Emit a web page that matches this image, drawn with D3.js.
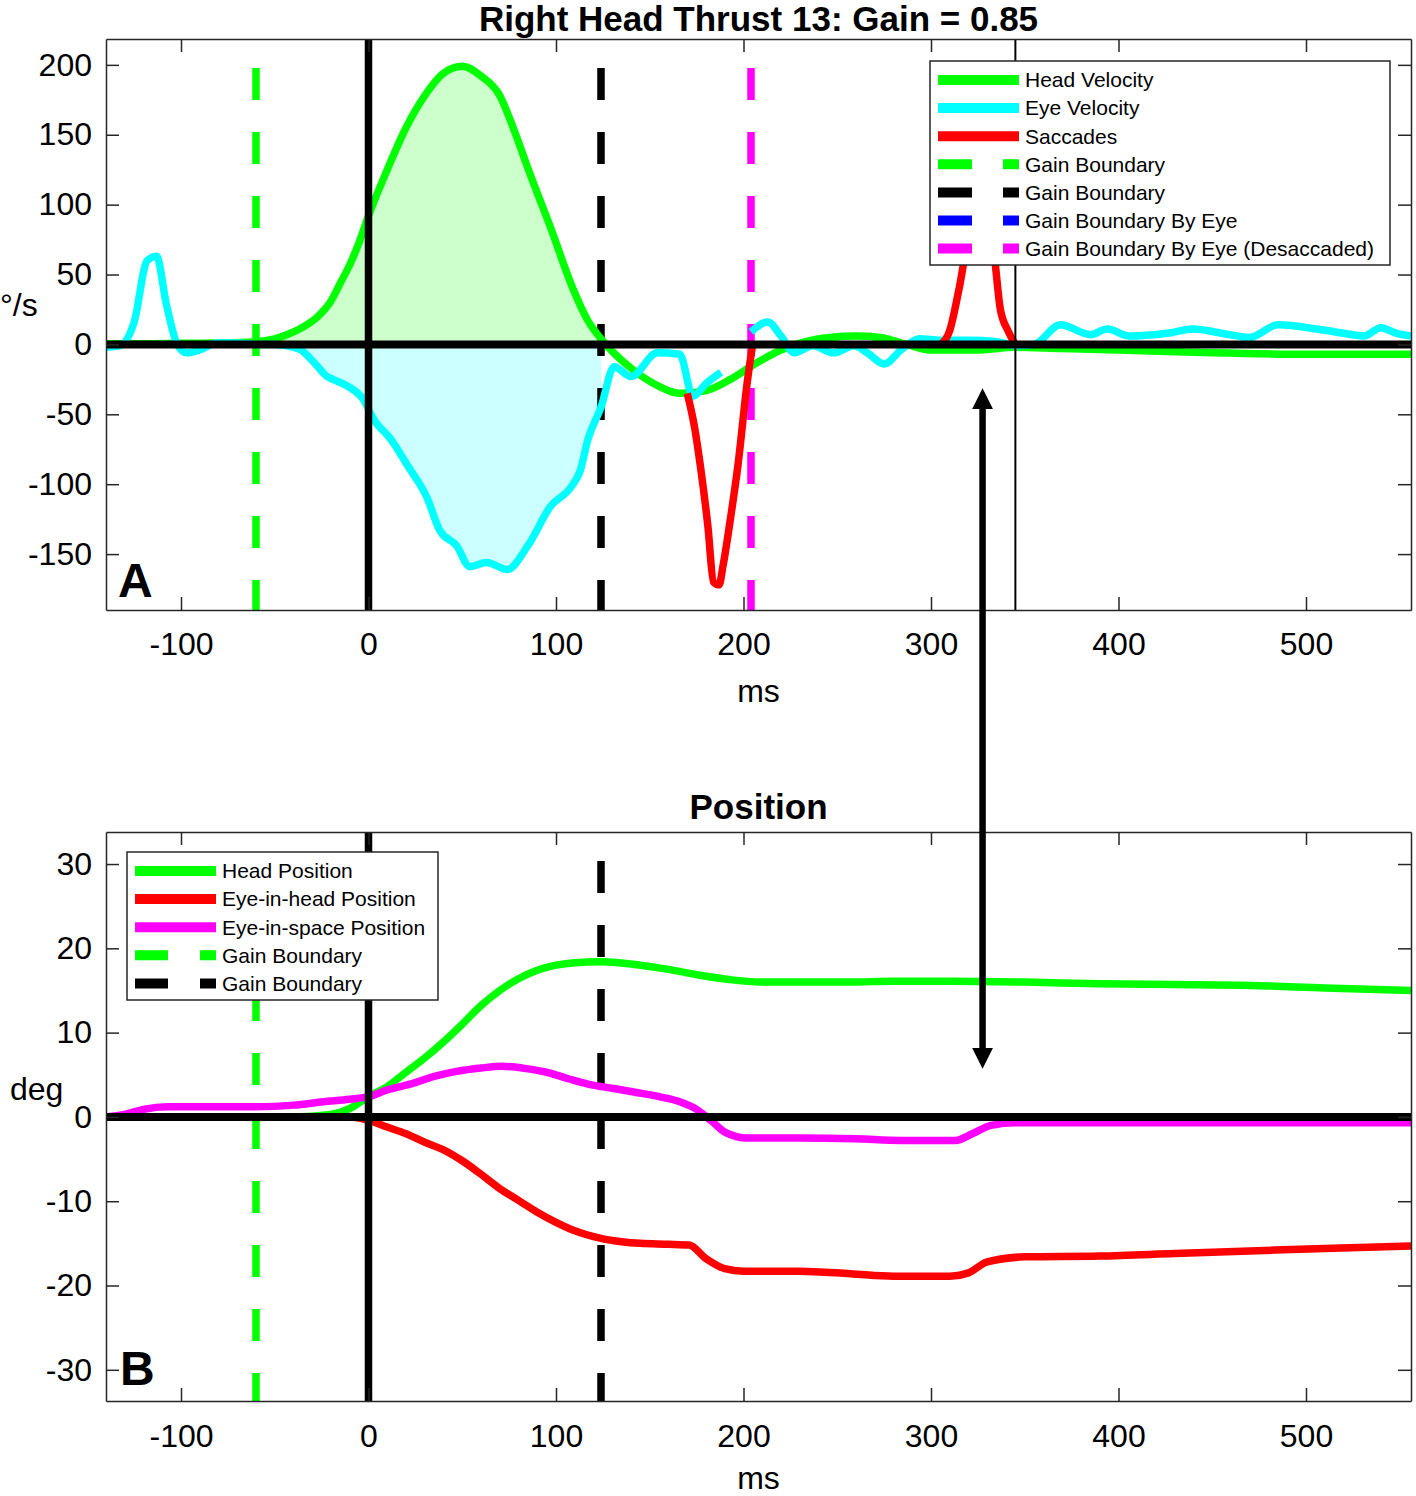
<!DOCTYPE html>
<html>
<head>
<meta charset="utf-8">
<script src="https://cdn.jsdelivr.net/npm/d3@7"></script>
<style>
	body { margin: 0; background: #fff; }
	svg { display: block; font-family: "Liberation Sans", Arial, sans-serif; }
</style>
</head>
<body>
<svg id="fig" width="1416" height="1496"></svg>
<script>
// ---- data ----
var headVelT = [-140, -120, -100, -80, -60, -50, -40, -33, -27, -20, -15, -10, -5, 0, 10, 20, 30, 40, 50, 60, 70, 78, 85, 97, 109, 117, 124, 141, 155, 166, 180, 193, 206, 220, 233, 246, 260, 273, 287, 300, 326, 344, 370, 400, 450, 500, 556];
var headVel = [0.5, 0.5, 0.8, 1, 2, 4, 9, 14, 20, 31, 44, 57, 73, 92, 125, 155, 178, 194, 199, 192, 178, 152, 126, 84, 40, 17, 4, -18, -30, -35, -33, -25, -14, -4, 2, 5, 6, 5, 0, -4, -4, -2, -3, -4, -6, -7, -7];

var eyeVelT = [-140, -133, -125, -118, -113, -108, -102, -97, -90, -81, -70, -60, -50, -40, -36, -29, -22, -19, -11, -3, 3, 12, 21, 31, 38, 47, 54, 63, 74, 85, 97, 108, 113, 117, 124, 131, 140, 154, 166, 173, 180, 188,
	196,
	204, 213, 220, 227, 237, 248, 259, 266, 275, 284, 294, 305, 320, 335, 346, 355, 369, 385, 394, 406, 426, 440, 455, 470, 485, 506, 520, 531, 540, 548, 556];
var eyeVel = [-2, -1, 16, 60, 63, 30, 0, -6, -4, 1, 1, 0, 0, -2, -4, -13, -23, -25, -30, -39, -54, -68, -87, -109, -133, -144, -159, -156, -161, -144, -116, -102, -90, -68, -45, -16, -23, -6, -7, -37, -28, -20,
	null,
	9, 16, 6, -6, -1, -6, -1, -6, -14, -4, 4, 3, 3, 2, -1, 0, 14, 7, 11, 6, 8, 11, 8, 5, 14, 11, 8, 6, 12, 8, 6];

var sac1T = [170, 174, 177, 181, 184, 187, 189, 193, 197, 202, 205];
var sac1 = [-35, -60, -87, -130, -170, -172, -159, -125, -87, -27, 1];
var sac2T = [305, 310, 315, 320, 327, 333, 337, 341, 345];
var sac2 = [0, 10, 40, 75, 88, 70, 25, 10, 0];

var headPosT = [-140, -100, -60, -40, -20, -10, 0, 10, 20, 30, 40, 50, 60, 70, 80, 90, 100, 110, 124, 145, 160, 177, 192, 209, 230, 257, 280, 310, 350, 390, 430, 470, 510, 556];
var headPos = [0, 0, 0, 0, 0.3, 1, 2.4, 3.6, 5.3, 7, 8.9, 11, 13.2, 15, 16.4, 17.4, 18, 18.3, 18.4, 18, 17.5, 16.8, 16.3, 16, 16, 16, 16.1, 16.1, 16, 15.8, 15.7, 15.6, 15.3, 15];

var eyeHeadPosT = [-140, -100, -60, -20, -10, 0, 10, 20, 30, 40, 50, 60, 70, 80, 90, 100, 110, 124, 135, 145, 160, 171, 180, 190, 200, 230, 257, 280, 310, 320, 330, 350, 390, 430, 470, 510, 556];
var eyeHeadPos = [0, 0, 0, 0, 0, -0.4, -1.2, -2, -3, -3.9, -5.2, -6.8, -8.5, -9.9, -11.3, -12.5, -13.5, -14.4, -14.8, -15, -15.1, -15.2, -16.8, -18, -18.3, -18.3, -18.6, -18.9, -18.9, -18.5, -17.2, -16.6, -16.5, -16.2, -15.9, -15.6, -15.3];

var eyeSpacePosT = [-140, -130, -120, -107, -60, -40, -24, -10, 0, 10, 24, 35, 47, 60, 71, 85, 95, 107, 119, 130, 143, 155, 166, 175, 183, 190, 202, 230, 260, 284, 313, 322, 332, 345, 364, 556];
var eyeSpacePos = [0, 0.3, 0.9, 1.2, 1.2, 1.4, 1.8, 2.1, 2.4, 3.2, 4, 4.8, 5.4, 5.8, 6, 5.7, 5.3, 4.5, 3.8, 3.4, 2.9, 2.4, 1.8, 0.9, -0.5, -1.8, -2.5, -2.5, -2.6, -2.8, -2.8, -2, -1, -0.7, -0.7, -0.7];

var gainBounds = [-60, 124];
var gainBoundByEyeDesac = 204;
var saccadeEnd = 345;
var arrowT = 327.5, arrowTopVel = -33, arrowBotDeg = 6;

var xTicks = [-100, 0, 100, 200, 300, 400, 500];
var velTicks = [-150, -100, -50, 0, 50, 100, 150, 200];
var posTicks = [-30, -20, -10, 0, 10, 20, 30];

var velLegend = ['Head Velocity', 'Eye Velocity', 'Saccades', 'Gain Boundary', 'Gain Boundary', 'Gain Boundary By Eye', 'Gain Boundary By Eye (Desaccaded)'];
var posLegend = ['Head Position', 'Eye-in-head Position', 'Eye-in-space Position', 'Gain Boundary', 'Gain Boundary'];

// ---- drawing ----
var GREEN = '#00ff00', CYAN = '#00ffff', RED = '#ff0000', MAG = '#ff00ff', BLUE = '#0000ff', AX = '#262626';
var LW = 7.5;

var svg = d3.select('#fig');
var x = d3.scaleLinear().domain([-140, 556]).range([106, 1411]);
var yV = d3.scaleLinear().domain([-190, 218.5]).range([610, 39]);
var yP = d3.scaleLinear().domain([-33.7, 33.8]).range([1401, 832]);

function zip(ts, vs) {
	return ts.map(function (t, i) { return { t: t, v: vs[i] }; });
}

function makeLine(y) {
	return d3.line()
		.defined(function (d) { return d.v !== null; })
		.x(function (d) { return x(d.t); })
		.y(function (d) { return y(d.v); })
		.curve(d3.curveMonotoneX);
}

function plotArea(id, y) {
	var r = y.range();
	svg.append('clipPath').attr('id', id)
		.append('rect')
		.attr('x', x.range()[0]).attr('y', r[1])
		.attr('width', x.range()[1] - x.range()[0]).attr('height', r[0] - r[1]);
	return svg.append('g').attr('clip-path', 'url(#' + id + ')');
}

function dashedV(g, y, t, color) {
	g.append('line')
		.attr('x1', x(t)).attr('x2', x(t))
		.attr('y1', y.range()[1]).attr('y2', y.range()[0])
		.attr('stroke', color).attr('stroke-width', LW)
		.attr('stroke-dasharray', '32,32').attr('stroke-dashoffset', 35);
}

function solidV(g, y, t, w) {
	g.append('line')
		.attr('x1', x(t)).attr('x2', x(t))
		.attr('y1', y.range()[1]).attr('y2', y.range()[0])
		.attr('stroke', '#000').attr('stroke-width', w);
}

function zeroLine(g, y) {
	g.append('line')
		.attr('x1', x.range()[0]).attr('x2', x.range()[1])
		.attr('y1', y(0)).attr('y2', y(0))
		.attr('stroke', '#000').attr('stroke-width', 8);
}

function drawAxes(y, yTicks, xPad) {
	var r = y.range();
	var fmt = function (d) { return String(d); };
	var gb = svg.append('g').attr('transform', 'translate(0,' + r[0] + ')')
		.call(d3.axisBottom(x).tickValues(xTicks).tickFormat(fmt).tickSizeInner(-13).tickSizeOuter(0).tickPadding(xPad));
	var gt = svg.append('g').attr('transform', 'translate(0,' + r[1] + ')')
		.call(d3.axisTop(x).tickValues(xTicks).tickFormat('').tickSizeInner(-13).tickSizeOuter(0));
	var gl = svg.append('g').attr('transform', 'translate(' + x.range()[0] + ',0)')
		.call(d3.axisLeft(y).tickValues(yTicks).tickFormat(fmt).tickSizeInner(-13).tickSizeOuter(0).tickPadding(14));
	var gr = svg.append('g').attr('transform', 'translate(' + x.range()[1] + ',0)')
		.call(d3.axisRight(y).tickValues(yTicks).tickFormat('').tickSizeInner(-13).tickSizeOuter(0));
	[gb, gt, gl, gr].forEach(function (g) {
		g.selectAll('path, line').attr('stroke', AX).attr('stroke-width', 1.5);
		g.selectAll('text').attr('fill', '#000').style('font-size', '32px').attr('font-family', null);
	});
	gb.selectAll('text').attr('dy', '0.72em');
}

function legend(lx, ly, w, h, labels, colors, dashed, dash) {
	var g = svg.append('g');
	g.append('rect').attr('x', lx).attr('y', ly).attr('width', w).attr('height', h)
		.attr('fill', '#fff').attr('stroke', AX).attr('stroke-width', 1.5);
	labels.forEach(function (lab, i) {
		var cy = ly + 19 + i * 28.1;
		g.append('line')
			.attr('x1', lx + 8).attr('x2', lx + 89)
			.attr('y1', cy).attr('y2', cy)
			.attr('stroke', colors[i]).attr('stroke-width', 10)
			.attr('stroke-dasharray', dashed[i] ? dash : null);
		g.append('text').attr('x', lx + 95).attr('y', cy).attr('dy', '0.35em')
			.style('font-size', '21px').attr('fill', '#000').text(lab);
	});
}

// ---- panel A: velocity ----
var head = zip(headVelT, headVel);
var eye = zip(eyeVelT, eyeVel);
var inGain = function (d) { return d.t >= gainBounds[0] && d.t <= gainBounds[1]; };

var gA = plotArea('clipA', yV);
var area = function (y) {
	return d3.area()
		.x(function (d) { return x(d.t); })
		.y0(y(0))
		.y1(function (d) { return y(d.v); })
		.curve(d3.curveMonotoneX);
};
gA.append('path').datum(head.filter(inGain)).attr('d', area(yV)).attr('fill', '#ccffcc');
gA.append('path').datum(eye.filter(inGain)).attr('d', area(yV)).attr('fill', '#ccffff');

dashedV(gA, yV, gainBounds[0], GREEN);
dashedV(gA, yV, gainBounds[1], '#000');
dashedV(gA, yV, gainBoundByEyeDesac, MAG);

var lineV = makeLine(yV);
gA.append('path').datum(head).attr('d', lineV).attr('fill', 'none').attr('stroke', GREEN).attr('stroke-width', LW).attr('stroke-linejoin', 'round');
gA.append('path').datum(eye).attr('d', lineV).attr('fill', 'none').attr('stroke', CYAN).attr('stroke-width', LW).attr('stroke-linejoin', 'round');
[zip(sac1T, sac1), zip(sac2T, sac2)].forEach(function (s) {
	gA.append('path').datum(s).attr('d', lineV).attr('fill', 'none').attr('stroke', RED).attr('stroke-width', LW).attr('stroke-linejoin', 'round');
});

zeroLine(gA, yV);
solidV(gA, yV, 0, 7.5);
solidV(gA, yV, saccadeEnd, 2);

drawAxes(yV, velTicks, 22);

// ---- panel B: position ----
var gB = plotArea('clipB', yP);
dashedV(gB, yP, gainBounds[0], GREEN);
dashedV(gB, yP, gainBounds[1], '#000');
var lineP = makeLine(yP);
[[headPosT, headPos, GREEN], [eyeHeadPosT, eyeHeadPos, RED], [eyeSpacePosT, eyeSpacePos, MAG]].forEach(function (s) {
	gB.append('path').datum(zip(s[0], s[1])).attr('d', lineP)
		.attr('fill', 'none').attr('stroke', s[2]).attr('stroke-width', LW).attr('stroke-linejoin', 'round');
});
zeroLine(gB, yP);
solidV(gB, yP, 0, 7.5);

drawAxes(yP, posTicks, 23);

// ---- texts ----
var cx = (x.range()[0] + x.range()[1]) / 2;
svg.append('text').attr('x', cx).attr('y', 31).attr('text-anchor', 'middle')
	.style('font-size', '35px').style('font-weight', 'bold').text('Right Head Thrust 13: Gain = 0.85');
svg.append('text').attr('x', cx).attr('y', 819).attr('text-anchor', 'middle')
	.style('font-size', '35px').style('font-weight', 'bold').text('Position');
svg.append('text').attr('x', cx).attr('y', 702).attr('text-anchor', 'middle').style('font-size', '32px').text('ms');
svg.append('text').attr('x', cx).attr('y', 1489).attr('text-anchor', 'middle').style('font-size', '32px').text('ms');
svg.append('text').attr('x', 0).attr('y', 316).style('font-size', '32px').text('°/s');
svg.append('text').attr('x', 10).attr('y', 1100).style('font-size', '32px').text('deg');
svg.append('text').attr('x', 118).attr('y', 597).style('font-size', '48px').style('font-weight', 'bold').text('A');
svg.append('text').attr('x', 120).attr('y', 1385).style('font-size', '48px').style('font-weight', 'bold').text('B');

// ---- legends ----
legend(930, 61, 460, 204, velLegend,
	[GREEN, CYAN, RED, GREEN, '#000', BLUE, MAG],
	[false, false, false, true, true, true, true], '34,31');
legend(127, 852, 311, 148, posLegend,
	[GREEN, RED, MAG, GREEN, '#000'],
	[false, false, false, true, true], '33,32');

// ---- double arrow across panels ----
var defs = svg.append('defs');
defs.append('marker').attr('id', 'ah').attr('viewBox', '0 0 10 10')
	.attr('refX', 5).attr('refY', 5).attr('markerWidth', 3.2).attr('markerHeight', 3.2)
	.attr('markerUnits', 'strokeWidth').attr('orient', 'auto-start-reverse')
	.append('path').attr('d', 'M0,0 L10,5 L0,10 z').attr('fill', '#000');
svg.append('line')
	.attr('x1', x(arrowT)).attr('x2', x(arrowT))
	.attr('y1', yV(arrowTopVel) + 8).attr('y2', yP(arrowBotDeg) - 8)
	.attr('stroke', '#000').attr('stroke-width', 6.5)
	.attr('marker-start', 'url(#ah)').attr('marker-end', 'url(#ah)');
</script>
</body>
</html>
